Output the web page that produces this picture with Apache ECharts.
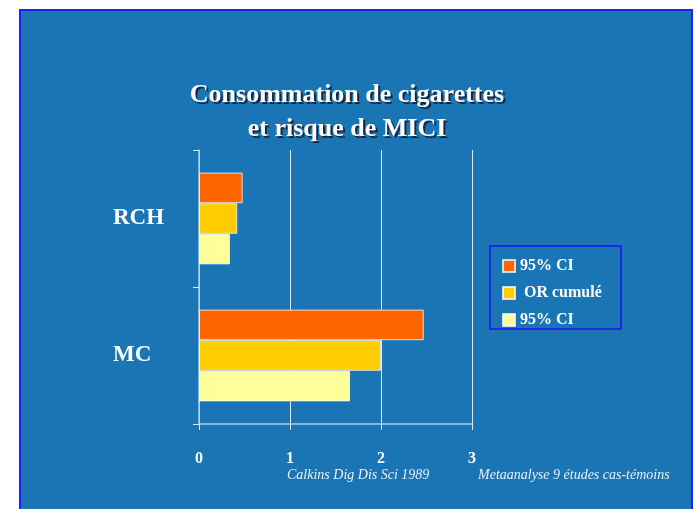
<!DOCTYPE html>
<html>
<head>
<meta charset="utf-8">
<script src="https://cdn.jsdelivr.net/npm/echarts@6/dist/echarts.min.js"></script>
<style>
  html, body { margin: 0; padding: 0; background: #ffffff; }
  #slide { position: absolute; left: 19px; top: 9px; width: 674px; height: 510px;
           background: #1a75b4; border: 2px solid #2020ff; box-sizing: border-box; }
  #chart { position: absolute; left: 0; top: 0; width: 697px; height: 509px; }
</style>
</head>
<body>
<div id="slide"></div>
<div id="chart"></div>
<script>
// Data
const categories = ['MC', 'RCH'];            // bottom to top
const ciLow = [1.66, 0.34];                   // 95% CI (lower)
const orCumule = [2.0, 0.42];                 // OR cumulé
const ciHigh = [2.47, 0.48];                  // 95% CI (upper)
const xTicks = [0, 1, 2, 3];
const legendLabels = { ciHigh: '95% CI', or: ' OR cumulé', ciLow: '95% CI' };
const titleLines = ['Consommation de cigarettes', 'et risque de MICI'];
const noteLeft = 'Calkins Dig Dis Sci 1989';
const noteRight = 'Metaanalyse 9 études cas-témoins';

const serif = 'Liberation Serif';
const chart = echarts.init(document.getElementById('chart'));
const barBorder = { borderColor: 'rgba(255,255,255,0.75)', borderWidth: 1 };
const titleFont = 'bold 26px "Liberation Serif"';

function titleText(line, y) {
  return [
    { type: 'text', x: 349, y: y + 2, silent: true,
      style: { text: line, fill: 'rgba(25,25,45,0.85)', font: titleFont,
        textAlign: 'center', textVerticalAlign: 'middle' } },
    { type: 'text', x: 347, y: y, silent: true,
      style: { text: line, fill: '#ffffff', font: titleFont,
        textAlign: 'center', textVerticalAlign: 'middle' } }
  ];
}

chart.setOption({
  backgroundColor: 'transparent',
  animation: false,
  grid: { left: 199, right: 225, top: 150, bottom: 85 },
  legend: {
    orient: 'vertical',
    left: 497, top: 253,
    itemWidth: 12, itemHeight: 12, itemGap: 11,
    icon: 'rect',
    data: ['ciHigh', 'or', 'ciLow'],
    formatter: name => legendLabels[name],
    textStyle: { color: '#ffffff', fontFamily: serif, fontWeight: 'bold', fontSize: 16, lineHeight: 14 }
  },
  xAxis: {
    type: 'value', min: xTicks[0], max: xTicks[xTicks.length - 1], interval: 1,
    axisLine: { show: true, lineStyle: { color: '#a8cbe4', width: 1.5 } },
    axisTick: { show: true, length: 6, lineStyle: { color: '#e0ecf5' } },
    splitLine: { show: true, lineStyle: { color: 'rgba(255,255,255,0.85)', width: 1 } },
    axisLabel: { color: '#ffffff', fontFamily: serif, fontWeight: 'bold', fontSize: 16, margin: 27 }
  },
  yAxis: {
    type: 'category', data: categories,
    axisLine: { show: true, lineStyle: { color: '#a8cbe4', width: 1.5 } },
    axisTick: { show: true, length: 6, lineStyle: { color: '#e0ecf5' } },
    axisLabel: {
      color: '#ffffff', fontFamily: serif, fontWeight: 'bold', fontSize: 23,
      margin: 86, align: 'left'
    }
  },
  series: [
    { name: 'ciHigh', type: 'bar', data: ciHigh, barGap: '0%', barCategoryGap: '33%',
      itemStyle: Object.assign({ color: '#ff6600' }, barBorder) },
    { name: 'or', type: 'bar', data: orCumule,
      itemStyle: Object.assign({ color: '#ffcc00' }, barBorder) },
    { name: 'ciLow', type: 'bar', data: ciLow,
      itemStyle: Object.assign({ color: '#ffff99' }, barBorder) }
  ],
  graphic: [
    ...titleText(titleLines[0], 95),
    ...titleText(titleLines[1], 129),
    { type: 'rect', shape: { x: 490, y: 246, width: 131, height: 83 },
      style: { fill: 'none', stroke: '#1515ff', lineWidth: 1.5 }, silent: true },
    { type: 'text', left: 287, top: 468,
      style: { text: noteLeft, fill: '#e8f0f8', font: 'italic 14px "Liberation Serif"' } },
    { type: 'text', left: 478, top: 468,
      style: { text: noteRight, fill: '#e8f0f8', font: 'italic 14px "Liberation Serif"' } }
  ]
});
</script>
</body>
</html>
